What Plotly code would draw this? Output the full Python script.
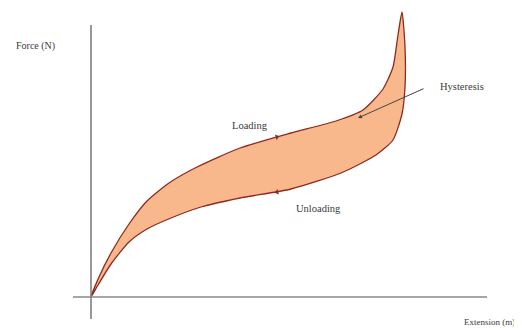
import plotly.graph_objects as go

# Loading curve (extension, force) in arbitrary units
load_ext = [0, 8, 20, 38, 56, 78, 106, 149, 200, 245, 272, 292, 302, 307, 311]
load_force = [0, 20, 44, 73, 96, 114, 130, 149, 164, 176, 187, 208, 230, 262, 285]

# Unloading curve (from peak back to origin)
unload_ext = [311, 314, 314, 311, 302, 285, 250, 200, 149, 110, 80, 56, 38, 20, 7, 0]
unload_force = [285, 250, 210, 183, 157, 142, 124, 108, 99, 90, 79, 68, 55, 33, 12, 0]

LINE = "#8e2a22"
FILL = "#f9b88c"
TXT = "#3a3a3a"
FONT = "Liberation Serif"

loop_x = load_ext + unload_ext[1:]
loop_y = load_force + unload_force[1:]

fig = go.Figure()
fig.add_trace(go.Scatter(
    x=loop_x, y=loop_y, mode="lines", fill="toself", fillcolor=FILL,
    line=dict(color=LINE, width=1.3, shape="spline", smoothing=0.6),
    hoverinfo="skip", showlegend=False))

# direction markers
fig.add_trace(go.Scatter(
    x=[186], y=[160], mode="markers",
    marker=dict(symbol="triangle-right", size=5, color=LINE, angle=-15),
    showlegend=False, hoverinfo="skip"))
fig.add_trace(go.Scatter(
    x=[186], y=[105], mode="markers",
    marker=dict(symbol="triangle-left", size=5, color=LINE, angle=-15),
    showlegend=False, hoverinfo="skip"))

shapes = [
    dict(type="line", xref="x", yref="y", x0=0, x1=0, y0=-22, y1=272,
         line=dict(color="#777777", width=1.5)),
    dict(type="line", xref="x", yref="y", x0=-18, x1=396, y0=0, y1=0,
         line=dict(color="#888888", width=1.5)),
]

annotations = [
    dict(x=-56, y=251, xref="x", yref="y", text="Force (N)", showarrow=False,
         font=dict(family=FONT, size=10, color=TXT)),
    dict(x=398, y=-25, xref="x", yref="y", text="Extension (m)", showarrow=False,
         xanchor="center",
         font=dict(family=FONT, size=9, color=TXT)),
    dict(x=159, y=172, xref="x", yref="y", text="Loading", showarrow=False,
         font=dict(family=FONT, size=10.5, color=TXT)),
    dict(x=227, y=89, xref="x", yref="y", text="Unloading", showarrow=False,
         font=dict(family=FONT, size=10.5, color=TXT)),
    dict(x=371, y=211, xref="x", yref="y", text="Hysteresis", showarrow=False,
         font=dict(family=FONT, size=10.5, color=TXT)),
    dict(x=267, y=179, xref="x", yref="y", ax=334, ay=209, axref="x", ayref="y",
         text="", showarrow=True, arrowhead=2, arrowsize=0.8, arrowwidth=1,
         arrowcolor="#444444"),
]

fig.update_layout(
    width=522, height=331,
    margin=dict(l=0, r=0, t=0, b=0),
    paper_bgcolor="white", plot_bgcolor="white",
    xaxis=dict(range=[-83, 439], visible=False, fixedrange=True),
    yaxis=dict(range=[-42, 289], visible=False, fixedrange=True),
    shapes=shapes, annotations=annotations, showlegend=False,
)

fig.write_html("out.html")
